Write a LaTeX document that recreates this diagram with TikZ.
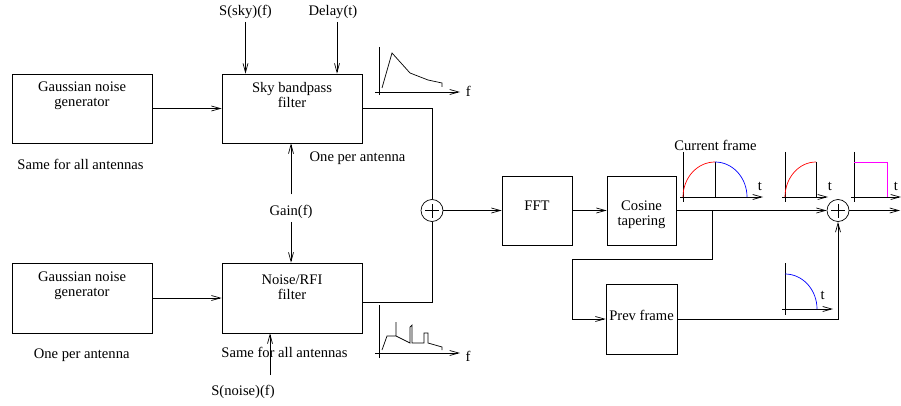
\documentclass[tikz,border=0pt]{standalone}
\usepackage{fontspec}
\setmainfont{Liberation Serif}
\usetikzlibrary{arrows.meta}
\tikzset{
	blk/.style={draw, inner sep=0pt},
	txt/.style={align=center, inner sep=0pt},
	lbl/.style={anchor=base, inner sep=0pt},
	arr/.style={-{Straight Barb[length=9pt,width=5pt]}},
	sumnode/.style={draw, circle, minimum size=22pt, inner sep=0pt,
		path picture={\draw ([xshift=-7pt]path picture bounding box.center) -- ([xshift=7pt]path picture bounding box.center)
			([yshift=-7pt]path picture bounding box.center) -- ([yshift=7pt]path picture bounding box.center);}},
}
\begin{document}
\begin{tikzpicture}[x=1pt, y=-1pt, line width=0.7pt, font=\fontsize{14.6}{15}\selectfont]
			\definecolor{myred}{RGB}{255, 0, 0}
			\definecolor{myblue}{RGB}{0, 0, 255}
			\definecolor{mymagenta}{RGB}{255, 0, 255}
			\useasboundingbox (0,0) rectangle (901,406);
			\node[blk, minimum width=140pt, minimum height=69pt] (gauss1) at (82,108.5) {};
			\node[blk, minimum width=140pt, minimum height=70pt] (gauss2) at (82,298) {};
			\node[blk, minimum width=140pt, minimum height=69pt] (sky) at (292,108.5) {};
			\node[blk, minimum width=140pt, minimum height=70pt] (noise) at (292,298) {};
			\node[blk, minimum width=70pt, minimum height=69pt] (fft) at (537,210.5) {};
			\node[blk, minimum width=69pt, minimum height=69pt] (cosine) at (641.5,210.5) {};
			\node[blk, minimum width=71pt, minimum height=70pt] (prev) at (641.5,319) {};
			\node[sumnode] (sum1) at (432,210.5) {};
			\node[sumnode] (sum2) at (838,210.5) {};
			\node[txt, below=8pt] (gauss1txt) at (gauss1.north) {Gaussian noise\\generator};
			\node[txt, below=9pt] (gauss2txt) at (gauss2.north) {Gaussian noise\\generator};
			\node[txt, below=8pt] (skytxt) at (sky.north) {Sky bandpass\\filter};
			\node[txt, below=12pt] (noisetxt) at (noise.north) {Noise/RFI\\filter};
			\node[txt, below=25pt] (cosinetxt) at (cosine.north) {Cosine\\tapering};
			\node[lbl] (ffttxt) at (fft.center) {FFT};
			\node[lbl] (prevtxt) at ([yshift=-1pt]prev.center) {Prev frame};
			\node[lbl] (same1) at (80.5,169.5) {Same for all antennas};
			\node[lbl] (one1) at (81.7,358) {One per antenna};
			\node[lbl] (one2) at (357.5,161) {One per antenna};
			\node[lbl] (same2) at (284.5,357) {Same for all antennas};
			\node[lbl] (ssky) at (245.5,15.5) {S(sky)(f)};
			\node[lbl] (delay) at (333,15.5) {Delay(t)};
			\node[lbl] (snoise) at (243,395) {S(noise)(f)};
			\node[lbl] (gain) at (291,215) {Gain(f)};
			\node[lbl] (curframe) at (715.5,151) {Current frame};
			\node[lbl] (f1) at (468.3,96.5) {f};
			\node[lbl] (f2) at (468,361.5) {f};
			\node[lbl] (t1) at (760,190) {t};
			\node[lbl] (t2) at (830,190) {t};
			\node[lbl] (t3) at (896,190) {t};
			\node[lbl] (t4) at (822.7,299) {t};
			\coordinate (snoisetail) at (270,375);
			\coordinate (tap) at (712,210.5);
			\coordinate (loopl) at (572,259);
			\coordinate (outr) at (900,210.5);
			\draw[arr] (gauss1) -- (sky);
			\draw[arr] (gauss2) -- (noise);
			\draw[arr, shorten <=3pt] (ssky) -- (ssky |- sky.north);
			\draw[arr, shorten <=3pt] ([xshift=4pt]delay.south) -- ([xshift=4pt]delay.south |- sky.north);
			\draw[arr, shorten <=10pt] (gain) -- (gain |- sky.south);
			\draw[arr, shorten <=3.5pt] (gain) -- (gain |- noise.north);
			\draw[arr] (snoisetail) -- (snoisetail |- noise.south);
			\draw (sky.east) -| (sum1);
			\draw ([yshift=-4pt]noise.east) -| (sum1);
			\draw[arr] (sum1) -- (fft);
			\draw[arr] (fft) -- (cosine);
			\draw[arr] (cosine) -- (sum2);
			\draw[arr] (tap) |- (loopl) |- (prev);
			\draw[arr] (prev) -| (sum2);
			\draw[arr] (sum2) -- (outr);
			\draw (379,47) -- (379,95);
			\draw[arr] (375,92) -- (460,92);
			\draw (382,88) -- (392,53) -- (410,73) -- (428,80) -- (442,83) -- (442,87);
			\draw (379,305) -- (379,358);
			\draw[arr] (375,353) -- (460,353);
			\draw (382,350) -- (387,336) -- (396,336) -- (396,322) -- (396,336) -- (410,343) -- (410,327) -- (412,325) -- (412,343) -- (424,343) -- (424,333) -- (428,333) -- (428,343) -- (442,347) -- (442,350);
			\draw (683,152) -- (683,202);
			\draw[arr] (680,197) -- (763,197);
			\draw (715,162) -- (715,197);
			\draw[myred] (683,197) .. controls (683,177.7) and (697.3,162) .. (715,162);
			\draw[myblue] (715,162) .. controls (732.7,162) and (747,177.7) .. (747,197);
			\draw (785,152) -- (785,202);
			\draw[arr] (782,197) -- (828,197);
			\draw (816,162) -- (816,197);
			\draw[myred] (785,197) .. controls (785,177.7) and (798.9,162) .. (816,162);
			\draw (854,152) -- (854,202);
			\draw[arr] (851,197) -- (901,197);
			\draw[mymagenta] (854,162) -- (887,162) -- (887,197);
			\draw (785,263) -- (785,315);
			\draw[arr] (782,309) -- (833,309);
			\draw[myblue] (785,274) .. controls (802.7,274) and (817,289.7) .. (817,309);
		\end{tikzpicture}
\end{document}
